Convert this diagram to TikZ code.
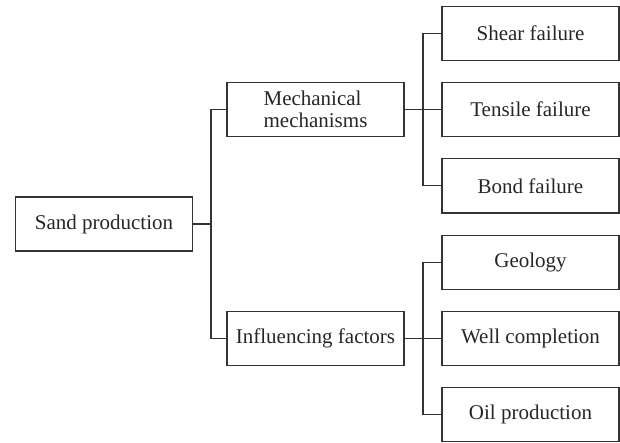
\documentclass[tikz,border=0pt]{standalone}
\usepackage{fontspec}
\setmainfont{Liberation Serif}
\usetikzlibrary{positioning}
\tikzset{
    tree/.style={x=0.5pt,y=-0.5pt,line width=0.6pt,draw=black!80,
                 font=\fontsize{10.5}{11}\selectfont},
    leafbox/.style={rectangle,draw=black!80,minimum width=88.5pt,minimum height=27pt,
                    inner sep=2pt,align=left,text=black!85},
    }
\begin{document}
\begin{tikzpicture}[tree]
            \useasboundingbox (0,0) rectangle (620,443);
            \node[leafbox] (sand) at (104,224) {Sand production};
            \node[leafbox] (mech) at (315.5,109.7) {Mechanical\\mechanisms};
            \node[leafbox] (infl) at (315.5,338.3) {Influencing factors};

            \node[leafbox] (shear) at (530.5,33.5) {Shear failure};
            \node[leafbox] (tens) at (530.5,109.7) {Tensile failure};
            \node[leafbox] (bond) at (530.5,185.9) {Bond failure};
            \node[leafbox] (geol) at (530.5,262.1) {Geology};
            \node[leafbox] (well) at (530.5,338.3) {Well completion};
            \node[leafbox] (oil) at (530.5,414.5) {Oil production};

            \coordinate (j1) at (211,224);
            \coordinate (j2) at (423,109.7);
            \coordinate (j3) at (423,338.3);

            \draw (sand.east) -- (j1);
            \draw (mech.west) -| (j1) |- (infl.west);
            \draw (mech.east) -- (tens.west);
            \draw (shear.west) -| (j2) |- (bond.west);
            \draw (infl.east) -- (well.west);
            \draw (geol.west) -| (j3) |- (oil.west);
        \end{tikzpicture}
\end{document}
